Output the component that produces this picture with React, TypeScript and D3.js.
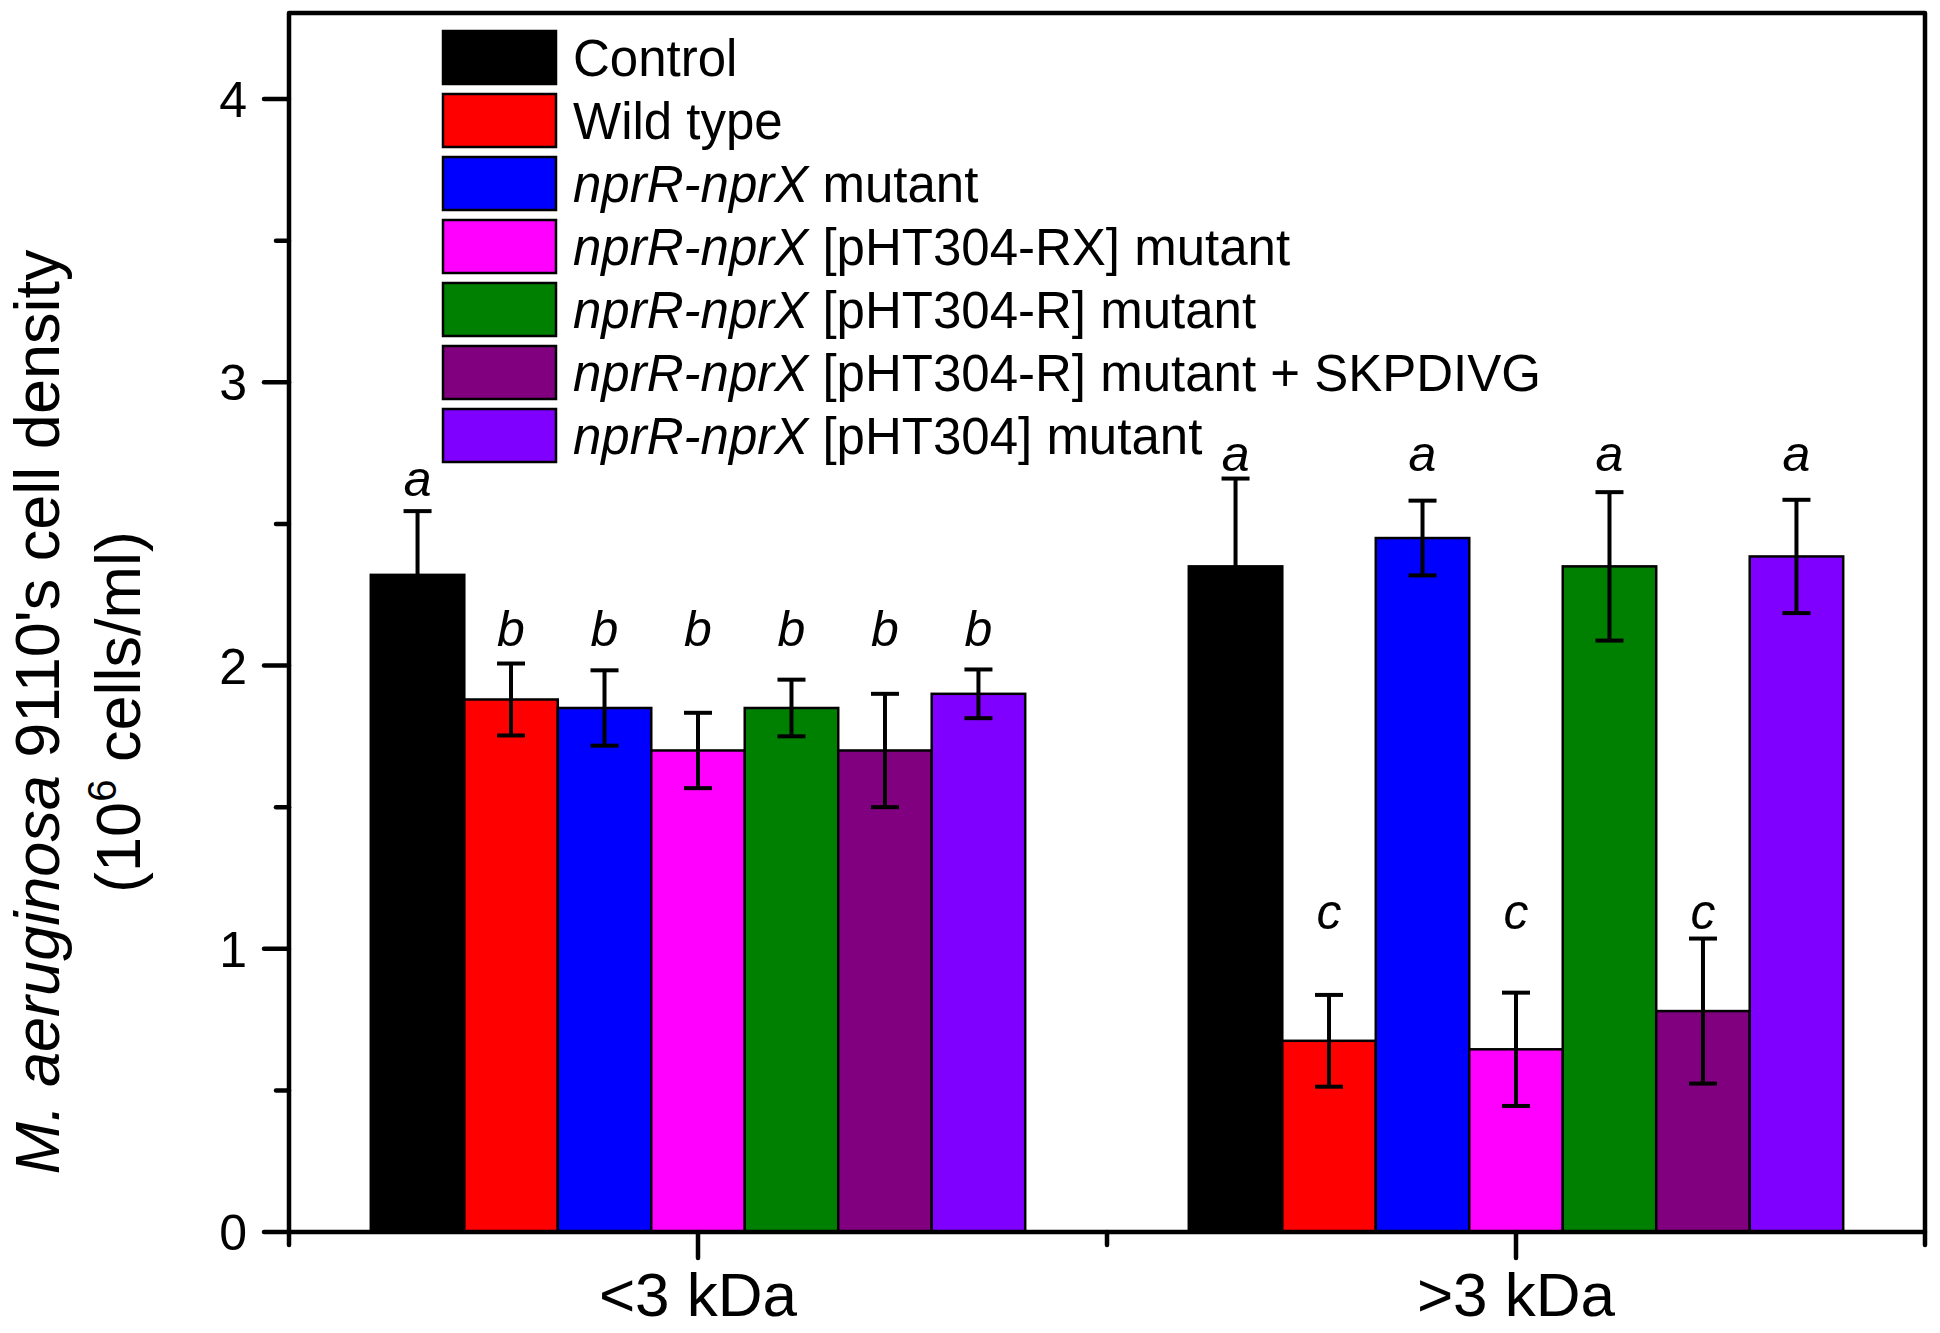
import React, { useEffect, useRef } from 'react'
import * as d3 from 'd3'

const groups = ['<3 kDa', '>3 kDa']
const strainItalic = ['', '', 'nprR-nprX', 'nprR-nprX', 'nprR-nprX', 'nprR-nprX', 'nprR-nprX']
const strainRest = [
  'Control',
  'Wild type',
  ' mutant',
  ' [pHT304-RX] mutant',
  ' [pHT304-R] mutant',
  ' [pHT304-R] mutant + SKPDIVG',
  ' [pHT304] mutant',
]
const colors = ['#000000', '#ff0000', '#0000ff', '#ff00ff', '#008000', '#800080', '#8000ff']

// cell density (10^6 cells/ml), one array per fraction
const meansSmall = [2.32, 1.88, 1.85, 1.7, 1.85, 1.7, 1.9]
const errSmall = [0.225, 0.127, 0.133, 0.133, 0.1, 0.2, 0.086]
const meansLarge = [2.35, 0.675, 2.45, 0.645, 2.35, 0.78, 2.385]
const errLarge = [0.31, 0.162, 0.132, 0.2, 0.262, 0.256, 0.2]

const lettersSmall = ['a', 'b', 'b', 'b', 'b', 'b', 'b']
const lettersLarge = ['a', 'c', 'a', 'c', 'a', 'c', 'a']
const letterYSmall = [2.6, 2.07, 2.07, 2.07, 2.07, 2.07, 2.07]
const letterYLarge = [2.685, 1.068, 2.685, 1.068, 2.685, 1.068, 2.685]

const majorY = [0, 1, 2, 3, 4]
const minorY = [0.5, 1.5, 2.5, 3.5]
const majorX = [1, 2]
const minorX = [0.5, 1.5, 2.5]

const FONT = '"Liberation Sans", Arial, sans-serif'

export default function App() {
  const svgRef = useRef<SVGSVGElement>(null)

  useEffect(() => {
    if (!svgRef.current) return
    const svg = d3.select(svgRef.current)
    svg.selectAll('*').remove()

    const width = 1940
    const height = 1333
    const left = 289
    const right = 1925
    const top = 13
    const bottom = 1232

    const x = d3.scaleLinear().domain([0.5, 2.5]).range([left, right])
    // tick 4 sits at y=99, so the frame top is a bit above 4.3
    const y = d3
      .scaleLinear()
      .domain([0, (4 * (bottom - top)) / (bottom - 99)])
      .range([bottom, top])

    const groupWidth = 0.8
    const barW = groupWidth / strainRest.length
    const barX = (g: number, i: number) => g + 1 - groupWidth / 2 + i * barW

    svg.attr('width', width).attr('height', height)
    svg.append('rect').attr('width', width).attr('height', height).attr('fill', 'white')

    const series = [
      { means: meansSmall, errs: errSmall, letters: lettersSmall, ly: letterYSmall },
      { means: meansLarge, errs: errLarge, letters: lettersLarge, ly: letterYLarge },
    ]

    series.forEach((s, g) => {
      svg
        .append('g')
        .selectAll('rect')
        .data(s.means)
        .join('rect')
        .attr('x', (_, i) => x(barX(g, i)))
        .attr('width', x(barW) - x(0))
        .attr('y', (d) => y(d))
        .attr('height', (d) => y(0) - y(d))
        .attr('fill', (_, i) => colors[i])
        .attr('stroke', 'black')
        .attr('stroke-width', 2.5)

      const eb = svg.append('g').attr('stroke', 'black').attr('stroke-width', 4).attr('fill', 'none')
      s.means.forEach((m, i) => {
        const cx = x(barX(g, i) + barW / 2)
        const e = s.errs[i]
        eb.append('line').attr('x1', cx).attr('x2', cx).attr('y1', y(m - e)).attr('y2', y(m + e))
        ;[m - e, m + e].forEach((v) => {
          eb.append('line')
            .attr('x1', cx - 14)
            .attr('x2', cx + 14)
            .attr('y1', y(v))
            .attr('y2', y(v))
        })
      })

      svg
        .append('g')
        .selectAll('text')
        .data(s.letters)
        .join('text')
        .attr('x', (_, i) => x(barX(g, i) + barW / 2))
        .attr('y', (_, i) => y(s.ly[i]))
        .attr('text-anchor', 'middle')
        .style('font-family', FONT)
        .style('font-size', '50px')
        .style('font-style', 'italic')
        .text((d) => d)
    })

    // frame
    svg
      .append('rect')
      .attr('x', left)
      .attr('y', top)
      .attr('width', right - left)
      .attr('height', bottom - top)
      .attr('fill', 'none')
      .attr('stroke', 'black')
      .attr('stroke-width', 4.5)
      .attr('stroke-linejoin', 'round')

    const ticks = svg.append('g').attr('stroke', 'black').attr('stroke-width', 4.5).attr('stroke-linecap', 'round')
    majorY.forEach((v) => {
      ticks.append('line').attr('x1', left).attr('x2', left - 25).attr('y1', y(v)).attr('y2', y(v))
    })
    minorY.forEach((v) => {
      ticks.append('line').attr('x1', left).attr('x2', left - 13).attr('y1', y(v)).attr('y2', y(v))
    })
    majorX.forEach((v) => {
      ticks.append('line').attr('x1', x(v)).attr('x2', x(v)).attr('y1', bottom).attr('y2', bottom + 26)
    })
    minorX.forEach((v) => {
      ticks.append('line').attr('x1', x(v)).attr('x2', x(v)).attr('y1', bottom).attr('y2', bottom + 13)
    })

    svg
      .append('g')
      .selectAll('text')
      .data(majorY)
      .join('text')
      .attr('x', left - 42)
      .attr('y', (d) => y(d) + 18)
      .attr('text-anchor', 'end')
      .style('font-family', FONT)
      .style('font-size', '50px')
      .text((d) => d)

    svg
      .append('g')
      .selectAll('text')
      .data(groups)
      .join('text')
      .attr('x', (_, i) => x(majorX[i]))
      .attr('y', 1316)
      .attr('text-anchor', 'middle')
      .style('font-family', FONT)
      .style('font-size', '62px')
      .text((d) => d)

    // y title
    const title = svg
      .append('g')
      .attr('transform', 'translate(0,712) rotate(-90)')
      .style('font-family', FONT)
      .style('font-size', '63px')
    const t1 = title.append('text').attr('x', 0).attr('y', 59).attr('text-anchor', 'middle')
    t1.append('tspan').style('font-style', 'italic').text('M. aeruginosa')
    t1.append('tspan').text(" 9110's cell density")
    const t2 = title.append('text').attr('x', 0).attr('y', 140).attr('text-anchor', 'middle')
    t2.append('tspan').text('(10')
    t2.append('tspan').attr('dy', -24).style('font-size', '40px').text('6')
    t2.append('tspan').attr('dy', 24).text(' cells/ml)')

    // legend
    const legend = svg.append('g')
    strainRest.forEach((label, i) => {
      const rowTop = 31 + i * 63
      legend
        .append('rect')
        .attr('x', 443)
        .attr('y', rowTop)
        .attr('width', 113)
        .attr('height', 53)
        .attr('fill', colors[i])
        .attr('stroke', 'black')
        .attr('stroke-width', 2.5)
      const t = legend
        .append('text')
        .attr('x', 573)
        .attr('y', rowTop + 26.5 + 18)
        .style('font-family', FONT)
        .style('font-size', '51px')
      if (strainItalic[i]) t.append('tspan').style('font-style', 'italic').text(strainItalic[i])
      t.append('tspan').text(label)
    })
  }, [])

  return <svg ref={svgRef} style={{ position: 'absolute', left: 0, top: 0, display: 'block' }} />
}
